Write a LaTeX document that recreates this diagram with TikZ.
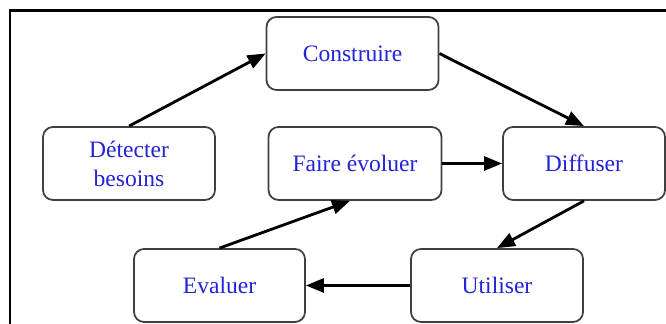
\documentclass[tikz,border=0pt]{standalone}
\usepackage{fontspec}
\setmainfont{Liberation Serif}
\usetikzlibrary{arrows.meta}
\definecolor{labelblue}{RGB}{35,35,215}

\begin{document}
\begin{tikzpicture}[
    stage/.style={draw=black!75, line width=1pt, fill=white, rounded corners=0.2cm,
      minimum width=3.44cm, minimum height=1.46cm, align=center, text=labelblue,
      font=\fontsize{13.4}{16.5}\selectfont},
    flow/.style={line width=1.6pt, -{Triangle[length=3.6mm,width=2.8mm]}}]
  \useasboundingbox (0,0) rectangle (13.32,6.48);

  % Outer frame (top and left sides only)
  \draw[line width=1.7pt] (0.2,0) -- (0.2,6.26) -- (13.32,6.26);

  % Stages of the cycle
  \node[stage] (construire) at (7.05,5.41) {Construire};
  \node[stage] (detecter) at (2.58,3.21) {D\'etecter\\besoins};
  \node[stage, minimum width=3.46cm] (evoluer) at (7.10,3.21) {Faire \'evoluer};
  \node[stage, minimum width=3.24cm] (diffuser) at (11.68,3.21) {Diffuser};
  \node[stage, minimum width=3.42cm] (evaluer) at (4.39,0.77) {Evaluer};
  \node[stage] (utiliser) at (9.94,0.77) {Utiliser};

  % Arrows between stages
  \draw[flow] (detecter.north) -- (construire.west);
  \draw[flow] (construire.east) -- (diffuser.north);
  \draw[flow] (evoluer.east) -- (diffuser.west);
  \draw[flow] (diffuser.south) -- (utiliser.north);
  \draw[flow] (utiliser.west) -- (evaluer.east);
  \draw[flow] (evaluer.north) -- ([xshift=-0.1cm]evoluer.south);
\end{tikzpicture}
\end{document}
